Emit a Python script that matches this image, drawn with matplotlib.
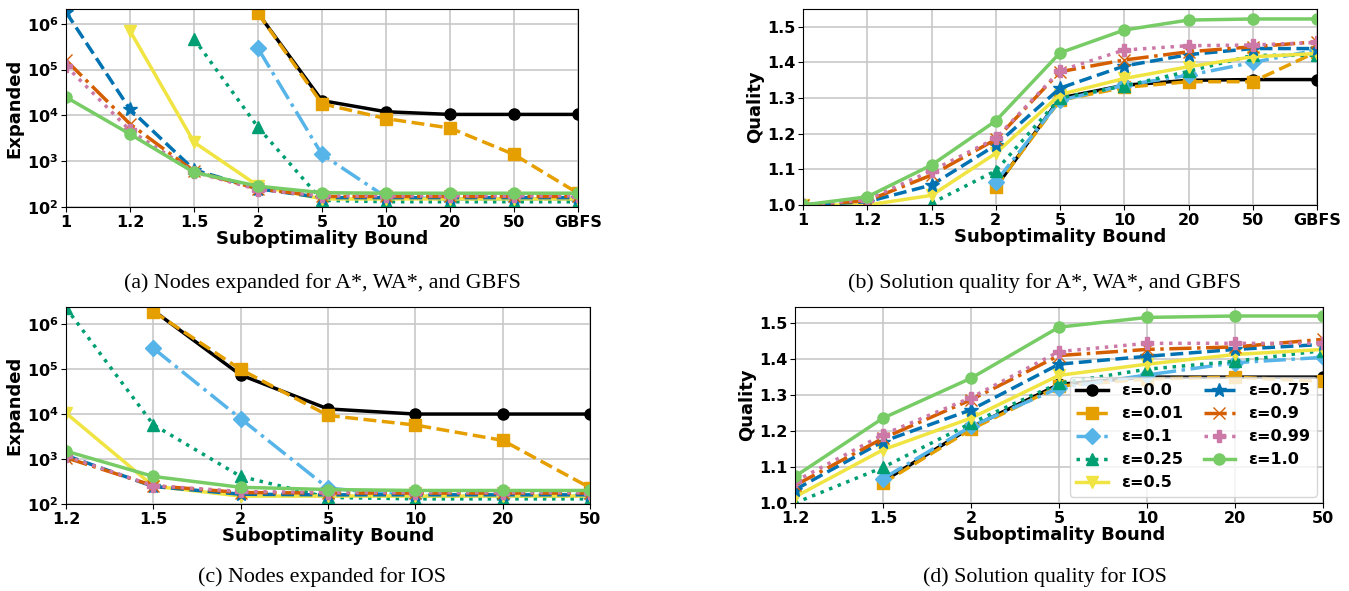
import numpy as np
import matplotlib
matplotlib.use("Agg")
import matplotlib.pyplot as plt

nan = np.nan

# categories
bounds_wa = ["1", "1.2", "1.5", "2", "5", "10", "20", "50", "GBFS"]
bounds_ios = ["1.2", "1.5", "2", "5", "10", "20", "50"]

eps_labels = ["ε=0.0", "ε=0.01", "ε=0.1", "ε=0.25", "ε=0.5",
              "ε=0.75", "ε=0.9", "ε=0.99", "ε=1.0"]

# (a) nodes expanded, A*/WA*/GBFS
exp_wa = [
    [nan, nan, nan, 1.7e6, 2.1e4, 1.2e4, 1.05e4, 1.05e4, 1.05e4],
    [nan, nan, nan, 1.7e6, 1.8e4, 8.5e3, 5.3e3, 1.4e3, 200],
    [nan, nan, nan, 2.9e5, 1.4e3, 165, 150, 150, 150],
    [nan, nan, 4.7e5, 5.5e3, 140, 130, 130, 130, 130],
    [nan, 7.0e5, 2.6e3, 290, 150, 150, 150, 150, 150],
    [1.8e6, 1.35e4, 650, 250, 160, 160, 160, 160, 160],
    [1.6e5, 6.5e3, 600, 250, 170, 170, 170, 170, 170],
    [1.2e5, 4.7e3, 580, 240, 175, 175, 175, 175, 175],
    [2.5e4, 3.9e3, 570, 285, 205, 200, 200, 200, 200],
]

# (b) solution quality, A*/WA*/GBFS
qual_wa = [
    [nan, nan, nan, 1.050, 1.300, 1.336, 1.350, 1.352, 1.352],
    [nan, nan, nan, 1.051, 1.294, 1.330, 1.346, 1.346, 1.430],
    [nan, nan, nan, 1.065, 1.294, 1.336, 1.364, 1.400, 1.435],
    [nan, nan, 1.005, 1.096, 1.300, 1.334, 1.375, 1.420, 1.420],
    [1.0, 1.0, 1.027, 1.145, 1.310, 1.355, 1.388, 1.416, 1.425],
    [1.0, 1.009, 1.056, 1.168, 1.328, 1.390, 1.422, 1.439, 1.439],
    [1.0, 1.012, 1.084, 1.184, 1.374, 1.407, 1.430, 1.444, 1.458],
    [1.0, 1.015, 1.096, 1.187, 1.377, 1.435, 1.447, 1.449, 1.456],
    [1.0, 1.023, 1.112, 1.236, 1.427, 1.491, 1.519, 1.522, 1.522],
]

# (c) nodes expanded, IOS
exp_ios = [
    [nan, 2.0e6, 7.4e4, 1.3e4, 1.0e4, 1.0e4, 1.0e4],
    [nan, 1.9e6, 9.8e4, 9.3e3, 5.7e3, 2.6e3, 230],
    [nan, 2.9e5, 7.9e3, 225, 150, 150, 150],
    [2.3e6, 5.8e3, 410, 140, 130, 130, 130],
    [1.05e4, 250, 150, 150, 150, 150, 150],
    [1.2e3, 245, 165, 160, 160, 160, 160],
    [1.07e3, 255, 180, 175, 175, 175, 175],
    [1.15e3, 255, 190, 180, 180, 180, 180],
    [1.5e3, 410, 235, 210, 200, 200, 200],
]

# (d) solution quality, IOS
qual_ios = [
    [nan, 1.060, 1.210, 1.330, 1.350, 1.350, 1.350],
    [nan, 1.055, 1.205, 1.325, 1.345, 1.350, 1.338],
    [nan, 1.068, 1.213, 1.320, 1.356, 1.390, 1.405],
    [1.0, 1.099, 1.222, 1.333, 1.372, 1.394, 1.424],
    [1.017, 1.148, 1.236, 1.355, 1.386, 1.413, 1.427],
    [1.037, 1.171, 1.259, 1.386, 1.408, 1.427, 1.441],
    [1.049, 1.180, 1.287, 1.410, 1.427, 1.434, 1.455],
    [1.060, 1.190, 1.293, 1.421, 1.444, 1.444, 1.444],
    [1.074, 1.236, 1.347, 1.489, 1.516, 1.520, 1.520],
]

colors = ["#000000", "#E69F00", "#56B4E9", "#009E73", "#F0E442",
          "#0072B2", "#D55E00", "#CC79A7", "#77CC66"]
markers = ["o", "s", "D", "^", "v", "*", "x", "P", "o"]
styles = ["-", "--", "-.", ":", "-", "--", "-.", ":", "-"]
msizes = [8, 8, 8, 8, 9, 10, 9, 9, 8]

W, H = 1349, 591
fig = plt.figure(figsize=(W / 100, H / 100), dpi=100)


def box(left, right, top, bottom):
    return [left / W, 1 - bottom / H, (right - left) / W, (bottom - top) / H]


def draw(ax, cats, data, logy, ylabel):
    x = np.arange(len(cats))
    for i in range(len(data)):
        ax.plot(x, data[i], color=colors[i], marker=markers[i],
                linestyle=styles[i], linewidth=2.5, markersize=msizes[i],
                label=eps_labels[i])
    ax.set_xticks(x)
    ax.set_xticklabels(cats)
    ax.set_xlim(0, len(cats) - 1)
    if logy:
        ax.set_yscale("log")
        ax.minorticks_off()
    ax.grid(True, color="#c8c8c8", linewidth=1.2)
    ax.set_axisbelow(True)
    ax.set_xlabel("Suboptimality Bound", fontsize=13, fontweight="bold",
                  labelpad=0)
    ax.set_ylabel(ylabel, fontsize=13, fontweight="bold", labelpad=2)
    for lab in ax.get_xticklabels() + ax.get_yticklabels():
        lab.set_fontweight("bold")
        lab.set_fontsize(11.5)
    ax.tick_params(pad=2)


plt.rcParams["mathtext.default"] = "bf"

ax_a = fig.add_axes(box(66, 578, 9, 207))
draw(ax_a, bounds_wa, exp_wa, True, "Expanded")
ax_a.set_ylim(100, 2.1e6)

ax_b = fig.add_axes(box(803, 1317, 9, 205))
draw(ax_b, bounds_wa, qual_wa, False, "Quality")
ax_b.set_ylim(1.0, 1.55)
ax_b.set_yticks([1.0, 1.1, 1.2, 1.3, 1.4, 1.5])

ax_c = fig.add_axes(box(66, 590, 307, 504))
draw(ax_c, bounds_ios, exp_ios, True, "Expanded")
ax_c.set_ylim(100, 2.4e6)

ax_d = fig.add_axes(box(795, 1323, 307, 503))
draw(ax_d, bounds_ios, qual_ios, False, "Quality")
ax_d.set_ylim(1.0, 1.545)
ax_d.set_yticks([1.0, 1.1, 1.2, 1.3, 1.4, 1.5])
ax_d.legend(ncol=2, loc="lower right", prop={"weight": "bold", "size": 11.5},
            bbox_to_anchor=(1.0, 0.0), borderaxespad=0.4, columnspacing=1.3,
            labelspacing=0.5)

cap = dict(ha="center", va="center", fontsize=15.8, family="Liberation Serif")
fig.text(322 / W, 1 - 283 / H, "(a) Nodes expanded for A*, WA*, and GBFS", **cap)
fig.text(1045 / W, 1 - 283 / H, "(b) Solution quality for A*, WA*, and GBFS", **cap)
fig.text(322 / W, 1 - 577 / H, "(c) Nodes expanded for IOS", **cap)
fig.text(1045 / W, 1 - 577 / H, "(d) Solution quality for IOS", **cap)

fig.savefig("out.png", dpi=100)
